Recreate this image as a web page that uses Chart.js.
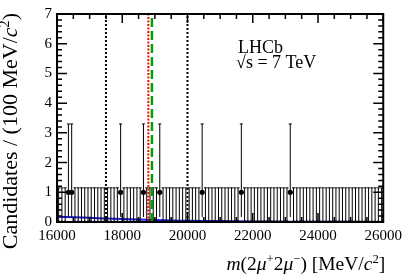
<!DOCTYPE html>
<html>
<head>
<meta charset="utf-8">
<script src="https://cdn.jsdelivr.net/npm/chart.js@4"></script>
<style>
  html, body { margin: 0; padding: 0; background: #fff; }
</style>
</head>
<body>
<canvas id="c" width="407" height="276"></canvas>
<script>
// binning: 100 bins of 100 MeV from 16000 to 26000
const binLow = 16000;
const binWidth = 100;
const counts = [
  0, 0, 0, 1, 1, 0, 0, 0, 0, 0,
  0, 0, 0, 0, 0, 0, 0, 0, 0, 1,
  0, 0, 0, 0, 0, 0, 1, 0, 0, 0,
  0, 1, 0, 0, 0, 0, 0, 0, 0, 0,
  0, 0, 0, 0, 1, 0, 0, 0, 0, 0,
  0, 0, 0, 0, 0, 0, 1, 0, 0, 0,
  0, 0, 0, 0, 0, 0, 0, 0, 0, 0,
  0, 1, 0, 0, 0, 0, 0, 0, 0, 0,
  0, 0, 0, 0, 0, 0, 0, 0, 0, 0,
  0, 0, 0, 0, 0, 0, 0, 0, 0, 0
];
// poisson errors, indexed by count
const errHigh = [1.15, 2.30];
const errLow = [0, 0.83];

// background fit (blue)
const fitMass = [16000, 16500, 17000, 17500, 18000, 18500, 19000, 19500, 20000, 21000, 22000, 23000, 24000, 25000, 26000];
const fitValue = [0.18, 0.16, 0.14, 0.12, 0.10, 0.08, 0.065, 0.05, 0.04, 0.03, 0.02, 0.012, 0.008, 0.005, 0.003];

// vertical marker lines
const blackLines = [17500, 20000];
const redLine = 18800;
const greenLine = 18910;

const xTickLabels = [16000, 18000, 20000, 22000, 24000, 26000];
const yTickLabels = [0, 1, 2, 3, 4, 5, 6, 7];

const FONT = '"Liberation Serif", "DejaVu Serif", serif';

const points = counts.map((n, i) => ({ x: binLow + binWidth * (i + 0.5), y: n }));

function vline(x, color, dash, width) {
  return {
    type: 'line',
    data: [{ x: x, y: 0 }, { x: x, y: 7 }],
    borderColor: color,
    borderWidth: width,
    borderDash: dash,
    pointRadius: 0,
    order: 1
  };
}

// error bars drawn right after the data points
const errorBars = {
  id: 'errorBars',
  afterDatasetDraw(chart, args) {
    if (args.index !== 0) return;
    const { ctx, chartArea } = chart;
    const x = chart.scales.x, y = chart.scales.y;
    ctx.save();
    ctx.beginPath();
    ctx.rect(chartArea.left, chartArea.top, chartArea.width, chartArea.height);
    ctx.clip();
    ctx.strokeStyle = '#000';
    ctx.lineWidth = 1;
    counts.forEach((n, i) => {
      const cx = x.getPixelForValue(binLow + binWidth * (i + 0.5));
      const xa = x.getPixelForValue(binLow + binWidth * i);
      const xb = x.getPixelForValue(binLow + binWidth * (i + 1));
      const yv = y.getPixelForValue(n);
      const yt = y.getPixelForValue(n + errHigh[n]);
      const yb = y.getPixelForValue(n - errLow[n]);
      ctx.beginPath();
      ctx.moveTo(cx, yb); ctx.lineTo(cx, yt);
      ctx.moveTo(cx - 1.5, yt); ctx.lineTo(cx + 1.5, yt);
      ctx.moveTo(xa, yv); ctx.lineTo(xb, yv);
      ctx.stroke();
    });
    ctx.restore();
  }
};

function richParts(ctx, parts, size) {
  return parts.map(([t, s]) => {
    const sup = s.indexOf('^') >= 0;
    const it = s.indexOf('i') >= 0;
    const fs = sup ? size * 0.65 : size;
    const font = (it ? 'italic ' : '') + fs + 'px ' + FONT;
    ctx.font = font;
    return { t: t, font: font, w: ctx.measureText(t).width, dy: sup ? -size * 0.38 : 0 };
  });
}

function drawRich(ctx, parts, size, x, y, align) {
  const items = richParts(ctx, parts, size);
  const total = items.reduce((a, b) => a + b.w, 0);
  let cx = align === 'right' ? x - total : (align === 'center' ? x - total / 2 : x);
  ctx.textAlign = 'left';
  ctx.textBaseline = 'alphabetic';
  items.forEach(it => {
    ctx.font = it.font;
    ctx.fillText(it.t, cx, y + it.dy);
    cx += it.w;
  });
}

// frame, inward ticks on all sides, titles and labels
const frame = {
  id: 'frame',
  afterDraw(chart) {
    const { ctx, chartArea: a } = chart;
    const x = chart.scales.x, y = chart.scales.y;
    ctx.save();
    ctx.strokeStyle = '#000';
    ctx.lineWidth = 1.5;
    ctx.beginPath();
    for (let v = 16000; v <= 26000; v += 500) {
      const px = x.getPixelForValue(v);
      const len = v % 2000 === 0 ? 9 : 5;
      ctx.moveTo(px, a.bottom); ctx.lineTo(px, a.bottom - len);
      ctx.moveTo(px, a.top); ctx.lineTo(px, a.top + len);
    }
    for (let k = 0; k <= 35; k++) {
      const py = y.getPixelForValue(k / 5);
      const len = k % 5 === 0 ? 10 : 5;
      ctx.moveTo(a.left, py); ctx.lineTo(a.left + len, py);
      ctx.moveTo(a.right, py); ctx.lineTo(a.right - len, py);
    }
    ctx.stroke();
    ctx.lineWidth = 2;
    ctx.strokeRect(a.left, a.top, a.right - a.left, a.bottom - a.top);

    ctx.fillStyle = '#000';
    // x title
    drawRich(ctx, [['m', 'i'], ['(2', ''], ['\u03bc', 'i'], ['+', '^'], ['2', ''], ['\u03bc', 'i'], ['\u2212', '^'],
      [') [MeV/', ''], ['c', 'i'], ['2', '^'], [']', '']], 19.5, a.right + 2, 270, 'right');
    // y title
    ctx.save();
    ctx.translate(17, a.top - 1);
    ctx.rotate(-Math.PI / 2);
    drawRich(ctx, [['Candidates / (100 MeV/', ''], ['c', 'i'], ['2', '^'], [')', '']], 22, 0, 0, 'right');
    ctx.restore();
    // labels
    drawRich(ctx, [['LHCb', '']], 18, 238, 53, 'left');
    drawRich(ctx, [['\u221As = 7 TeV', '']], 18, 236, 68, 'left');
    ctx.restore();
  }
};

new Chart(document.getElementById('c'), {
  type: 'scatter',
  data: {
    datasets: [
      {
        label: 'data',
        data: points,
        pointRadius: c => (c.raw && c.raw.y > 0 ? 2.6 : 1.4),
        pointBackgroundColor: '#000',
        pointBorderWidth: 0,
        order: 2
      },
      {
        label: 'fit',
        type: 'line',
        data: fitMass.map((m, i) => ({ x: m, y: fitValue[i] })),
        borderColor: '#1a1ae6',
        borderWidth: 2,
        pointRadius: 0,
        tension: 0.4,
        order: 3
      },
      vline(blackLines[0], '#000', [2, 2], 2),
      vline(blackLines[1], '#000', [2, 2], 2),
      vline(redLine, '#ff0000', [2, 1.5], 2),
      vline(greenLine, '#00a000', [9, 4], 2.5)
    ]
  },
  options: {
    responsive: false,
    animation: false,
    layout: { padding: { top: 14, right: 22, left: 0, bottom: 0 } },
    plugins: { legend: { display: false }, tooltip: { enabled: false } },
    scales: {
      x: {
        type: 'linear',
        min: 16000,
        max: 26000,
        grid: { display: false, drawTicks: false },
        border: { display: false },
        afterBuildTicks: s => { s.ticks = xTickLabels.map(v => ({ value: v })); },
        ticks: {
          callback: v => String(v),
          font: { family: FONT, size: 15 },
          color: '#000',
          padding: 5,
          maxRotation: 0,
          autoSkip: false
        },
        afterFit: s => { s.height = 54; }
      },
      y: {
        min: 0,
        max: 7,
        grid: { display: false, drawTicks: false },
        border: { display: false },
        afterBuildTicks: s => { s.ticks = yTickLabels.map(v => ({ value: v })); },
        ticks: {
          font: { family: FONT, size: 15 },
          color: '#000',
          padding: 5
        },
        afterFit: s => { s.width = 57; }
      }
    }
  },
  plugins: [errorBars, frame]
});
</script>
</body>
</html>
